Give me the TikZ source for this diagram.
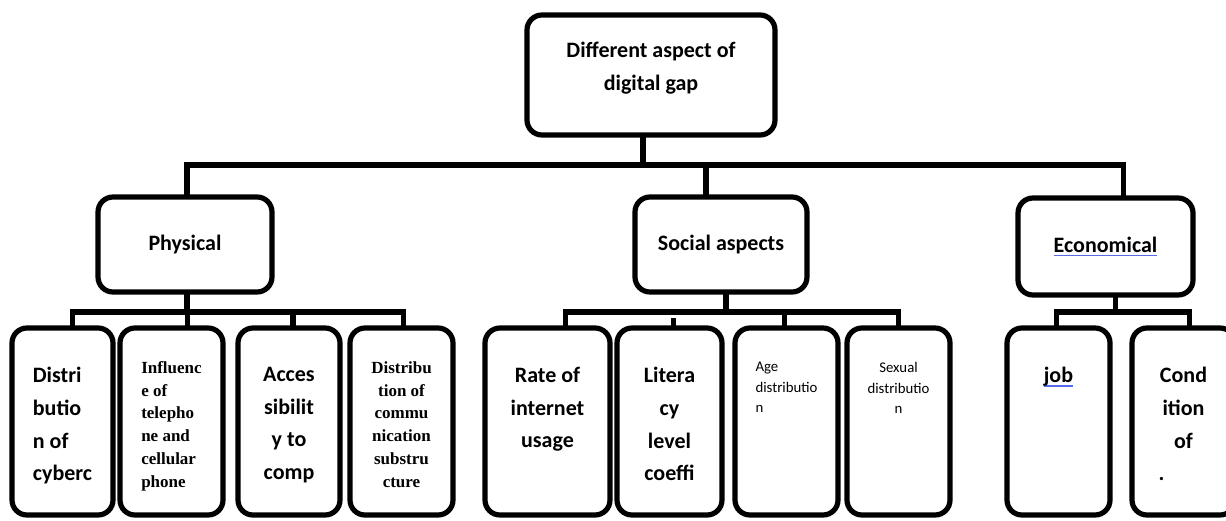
\documentclass[tikz,border=0pt]{standalone}
\usepackage{fontspec}
\setmainfont{Carlito}
\newfontfamily\oldserif{Liberation Serif}
\usetikzlibrary{positioning}
\definecolor{spellblue}{RGB}{85,105,235}
\newlength\spelllen
\newcommand\spellmark[1]{\settowidth\spelllen{#1}\rlap{\textcolor{spellblue}{\rule[-0.35ex]{\spelllen}{0.6pt}}}#1}
\tikzset{
    x=0.5pt, y=-0.5pt, % one unit is one pixel of the scan
    box/.style={draw, line width=2.6pt, rounded corners=7.5pt, outer sep=0pt, fill=white}, % every frame
    headbox/.style={box, minimum height=47.5pt, font=\fontsize{11}{16.5}\selectfont\bfseries, align=center}, % upper boxes
    headtxt/.style={inner sep=0pt, font=\fontsize{11}{16.5}\selectfont\bfseries, align=center},
    leaf/.style={box, minimum height=93.5pt, minimum width=51.5pt}, % lower boxes
    leaftxt/.style={inner sep=0pt, font=\fontsize{11}{16.3}\selectfont\bfseries, align=center},
    seriftxt/.style={inner sep=0pt, font=\fontsize{8.5}{11.4}\selectfont\oldserif\bfseries, align=left},
    smalltxt/.style={inner sep=0pt, font=\fontsize{7.4}{10.2}\selectfont, align=left},
    link/.style={line width=2.6pt}, % the tree lines
}
\begin{document}
\begin{tikzpicture}
\useasboundingbox (0,0) rectangle (1226,520);
\clip (0,0) rectangle (1226,520);
% upper part
\node[headbox, minimum width=124pt, minimum height=60pt] (root) at (651,75) {};
\node[headtxt] (roott) at ([yshift=3.5pt]root.center) {Different aspect of\\digital gap};
\node[headbox, minimum width=87pt] (phys) at (185,244.5) {Physical};
\node[headbox, minimum width=86pt] (soc) at (721,244.5) {Social aspects};
\node[headbox, minimum width=87.5pt, minimum height=48.5pt] (econ) at (1105.5,246.5) {\spellmark{Economical}};
% lower part
\node[leaf, minimum width=50.5pt] (p1) at (62.5,421.5) {};
\node[leaf, right=3.5pt of p1] (p2) {};
\node[leaf, minimum width=51pt, right=7.5pt of p2] (p3) {};
\node[leaf, right=5pt of p3] (p4) {};
\node[leaf, minimum width=62.5pt] (s1) at (547.5,421.5) {};
\node[leaf, minimum width=52.5pt, right=3.5pt of s1] (s2) {};
\node[leaf, right=6.5pt of s2] (s3) {};
\node[leaf, right=4.5pt of s3] (s4) {};
\node[leaf] (e1) at (1058.5,421.5) {};
\node[leaf, right=11pt of e1] (e2) {};
% texts of the lower boxes
\node[leaftxt, align=left, below=19.5pt of p1.north] (p1t) {Distri\\butio\\n of\\cyberc};
\node[seriftxt, below=16.5pt of p2.north] (p2t) {Influenc\\e of\\telepho\\ne and\\cellular\\phone};
\node[leaftxt, below=19.5pt of p3.north] (p3t) {Acces\\sibilit\\y to\\comp};
\node[seriftxt, align=center, below=16.5pt of p4.north] (p4t) {Distribu\\tion of\\commu\\nication\\substru\\cture};
\node[leaftxt, below=19.5pt of s1.north] (s1t) {Rate of\\internet\\usage};
\node[leaftxt, below=19.5pt of s2.north] (s2t) {Litera\\cy\\level\\coeffi};
\node[smalltxt, below=17pt of s3.north] (s3t) {Age\\distributio\\n};
\node[smalltxt, align=center, below=17pt of s4.north] (s4t) {Sexual\\distributio\\n};
\node[leaftxt, below=19.5pt of e1.north] (e1t) {\spellmark{job}};
\node[leaftxt, below=19.5pt of e2.north] (e2t) {Cond\\ition\\of\\.\hspace*{2em}};
% where the lines meet the boxes
\coordinate (bar0) at (0,165);
\coordinate (bar1) at (0,312);
\coordinate (rootdn) at ([xshift=-4pt]root.south);
\coordinate (physup) at ([xshift=1pt]phys.north);
\coordinate (physdn) at ([xshift=1pt]phys.south);
\coordinate (socup) at ([xshift=-7.5pt]soc.north);
\coordinate (socdn) at ([xshift=2.5pt]soc.south);
\coordinate (econup) at ([xshift=9pt]econ.north);
\coordinate (econdn) at ([xshift=5pt]econ.south);
\coordinate (p1up) at ([xshift=5pt]p1.north);
\coordinate (p2up) at ([xshift=8pt]p2.north);
\coordinate (p3up) at ([xshift=2pt]p3.north);
\coordinate (p4up) at ([xshift=1pt]p4.north);
\coordinate (s1up) at ([xshift=9pt]s1.north);
\coordinate (s2up) at ([xshift=2pt]s2.north);
\coordinate (s3up) at ([xshift=-1pt]s3.north);
\coordinate (s4up) at (s4.north);
\coordinate (e1up) at ([xshift=-1pt]e1.north);
\coordinate (e2up) at ([xshift=3pt]e2.north);
% tree lines
\draw[link] (rootdn) -- (rootdn |- bar0);
\draw[link] (physup) -- (physup |- bar0) -- (econup |- bar0) -- (econup);
\draw[link] (socup) -- (socup |- bar0);
\draw[link] (physdn) -- (physdn |- bar1);
\draw[link] (p1up) -- (p1up |- bar1) -- (p4up |- bar1) -- (p4up);
\draw[link] (p2up) -- (p2up |- bar1);
\draw[link] (p3up) -- (p3up |- bar1);
\draw[link] (socdn) -- (socdn |- bar1);
\draw[link] (s1up) -- (s1up |- bar1) -- (s4up |- bar1) -- (s4up);
\draw[link] (s2up) -- ++(0,-10);
\draw[link] (s3up) -- (s3up |- bar1);
\draw[link] (econdn) -- (econdn |- bar1);
\draw[link] (e1up) -- (e1up |- bar1) -- (e2up |- bar1) -- (e2up);
\end{tikzpicture}
\end{document}
